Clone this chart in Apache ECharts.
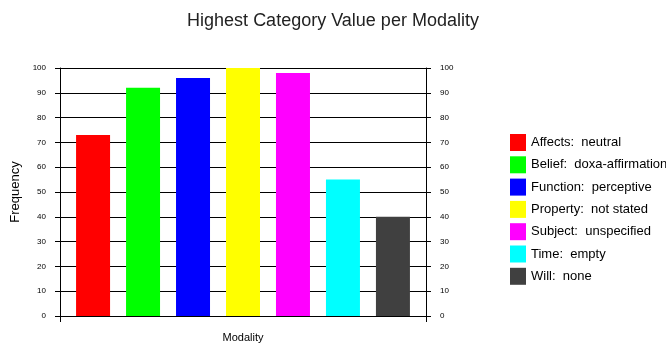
<!DOCTYPE html>
<html>
<head>
<meta charset="utf-8">
<script src="https://cdn.jsdelivr.net/npm/echarts@6/dist/echarts.min.js"></script>
<style>
  html, body { margin: 0; padding: 0; background: #fff; }
  #chart { width: 666px; height: 344px; }
</style>
</head>
<body>
<div id="chart"></div>
<script>
// Highest category value for each modality
const categories = ['Modality'];
const seriesNames = [
  'Affects:  neutral',
  'Belief:  doxa-affirmation',
  'Function:  perceptive',
  'Property:  not stated',
  'Subject:  unspecified',
  'Time:  empty',
  'Will:  none'
];
const seriesValues = [73, 92, 96, 100, 98, 55, 40];
const seriesColors = ['#ff0000', '#00ff00', '#0000ff', '#ffff00', '#ff00ff', '#00ffff', '#404040'];
const yTicks = { min: 0, max: 100, interval: 10 };

const font = 'Liberation Sans, Arial, sans-serif';

const valueAxis = (position, showSplit) => ({
  type: 'value',
  position: position,
  min: yTicks.min,
  max: yTicks.max,
  interval: yTicks.interval,
  axisLine: { show: true, lineStyle: { color: '#000', width: 1 } },
  axisTick: { show: true, length: 5, inside: false, lineStyle: { color: '#000' } },
  axisLabel: { color: '#000', fontSize: 8, fontFamily: font, margin: 14 },
  splitLine: { show: showSplit, lineStyle: { color: '#000', width: 1 } }
});

const chart = echarts.init(document.getElementById('chart'), null, { renderer: 'canvas' });
chart.setOption({
  animation: false,
  backgroundColor: '#fff',
  title: {
    text: 'Highest Category Value per Modality',
    left: 'center',
    top: 7,
    textStyle: { color: '#222', fontSize: 18, fontWeight: 'normal', fontFamily: font }
  },
  grid: { left: 60, right: 240, top: 68, bottom: 28 },
  legend: {
    orient: 'vertical',
    left: 510,
    top: 134,
    padding: 0,
    itemWidth: 16,
    itemHeight: 17,
    itemGap: 5.3,
    icon: 'rect',
    textStyle: { color: '#000', fontSize: 13, fontFamily: font },
    data: seriesNames
  },
  xAxis: {
    type: 'category',
    data: categories,
    boundaryGap: true,
    axisLine: { show: true, lineStyle: { color: '#000', width: 1 } },
    axisTick: { show: true, length: 6, lineStyle: { color: '#000' } },
    axisLabel: { color: '#000', fontSize: 11, fontFamily: font, margin: 16 },
    splitLine: { show: false }
  },
  yAxis: [
    Object.assign(valueAxis('left', true), {
      name: 'Frequency',
      nameLocation: 'middle',
      nameGap: 32,
      nameRotate: 90,
      nameTextStyle: { color: '#000', fontSize: 13, fontFamily: font }
    }),
    valueAxis('right', false)
  ],
  series: seriesNames.map((name, i) => ({
    name: name,
    type: 'bar',
    yAxisIndex: 0,
    barWidth: 34,
    barGap: '47%',
    itemStyle: { color: seriesColors[i] },
    data: [seriesValues[i]]
  }))
});
</script>
</body>
</html>
